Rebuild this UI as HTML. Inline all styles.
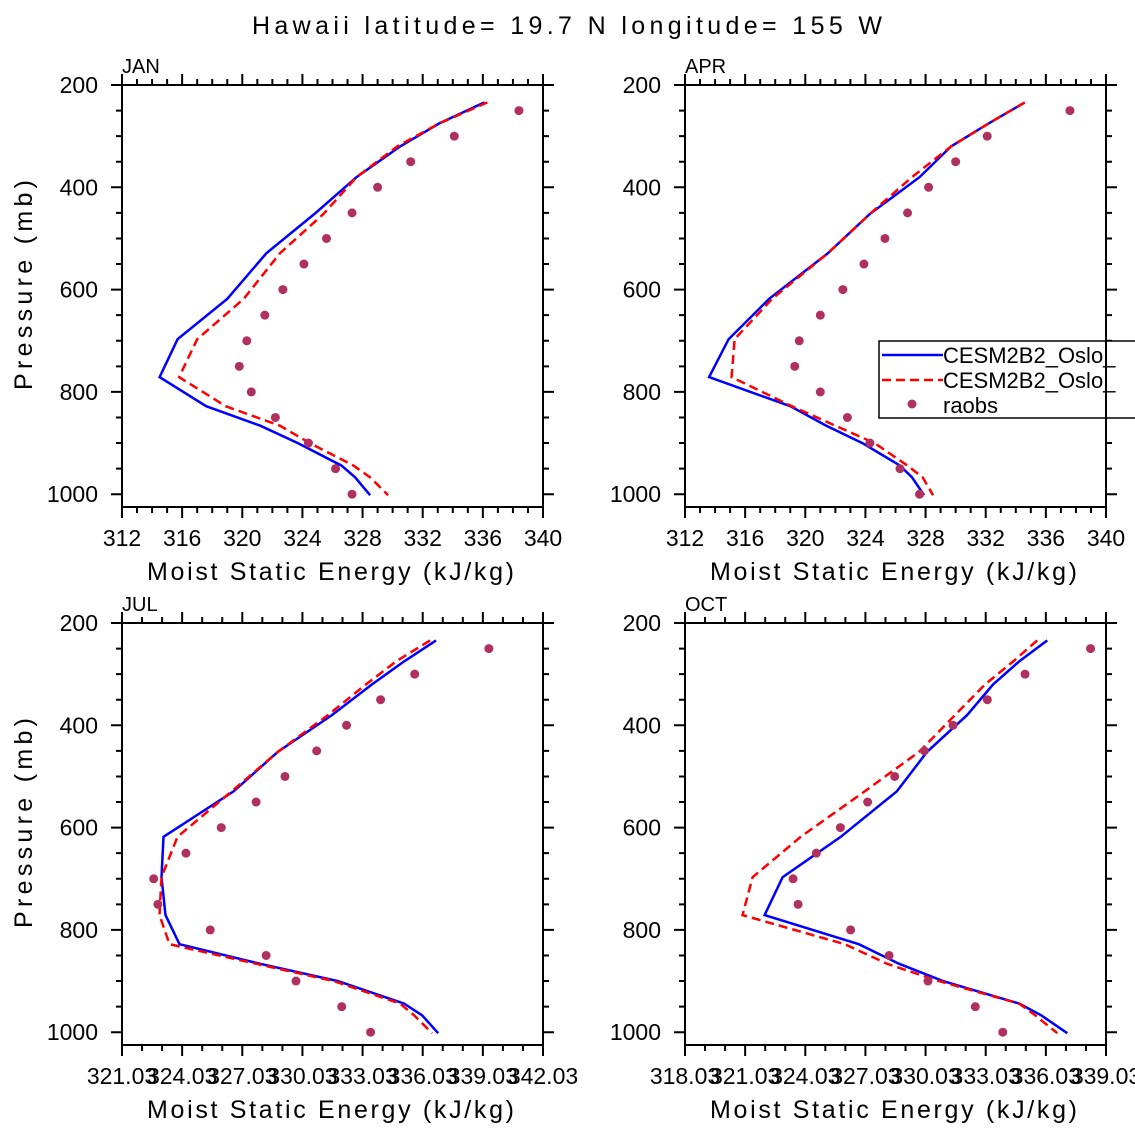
<!DOCTYPE html>
<html><head><meta charset="utf-8"><style>
html,body{margin:0;padding:0;background:#fff;}
svg{display:block;font-family:"Liberation Sans",sans-serif;}
</style></head><body>
<svg id="chart" width="1135" height="1135" viewBox="0 0 1135 1135" xmlns="http://www.w3.org/2000/svg">
<text x="567" y="34" font-size="25" text-anchor="middle" textLength="630" lengthAdjust="spacing" fill="#000">Hawaii  latitude= 19.7 N longitude= 155 W</text>
</svg>
<script>
const levels = [234,275,320,380,452,529,618,697,771,828,866,900,944,967,1002];
const obsLevels = [250,300,350,400,450,500,550,600,650,700,750,800,850,900,950,1000];
const months = ['JAN','APR','JUL','OCT'];
const janBlue = [336.1,333.1,330.5,327.6,324.8,321.6,319.0,315.7,314.5,317.6,321.2,323.7,326.6,327.5,328.5];
const janRed  = [336.3,333.1,330.3,327.6,325.4,322.5,320.1,317.0,315.8,318.9,322.5,324.5,327.4,328.5,329.7];
const janObs  = [338.4,334.1,331.2,329.0,327.3,325.6,324.1,322.7,321.5,320.3,319.8,320.6,322.2,324.4,326.2,327.3];
const aprBlue = [334.6,332.2,329.7,327.6,324.3,321.5,317.6,314.9,313.6,319.0,321.4,323.8,326.3,327.1,327.9];
const aprRed  = [334.6,332.2,329.7,327.1,324.3,321.5,317.8,315.3,315.1,319.1,322.0,324.6,326.8,327.8,328.5];
const aprObs  = [337.6,332.1,330.0,328.2,326.8,325.3,323.9,322.5,321.0,319.6,319.3,321.0,322.8,324.3,326.3,327.6];
const julBlue = [336.7,335.1,333.5,331.5,328.8,326.6,323.1,323.0,323.2,323.9,327.9,331.8,335.1,336.0,336.8];
const julRed  = [336.4,334.7,333.2,331.3,328.8,326.5,323.8,323.0,322.9,323.4,327.7,331.6,334.9,335.6,336.5];
const julObs  = [339.33,335.63,333.93,332.23,330.74,329.16,327.72,325.98,324.22,322.61,322.82,325.43,328.22,329.71,331.99,333.43];
const octBlue = [336.1,334.7,333.4,332.1,330.1,328.6,325.8,322.9,322.0,326.7,328.7,330.9,334.7,335.8,337.1];
const octRed  = [335.6,334.4,333.0,331.5,329.7,327.0,323.8,321.4,320.9,326.0,328.1,330.7,334.7,335.5,336.6];
const octObs  = [338.26,334.99,333.11,331.40,329.97,328.49,327.14,325.78,324.58,323.42,323.67,326.29,328.21,330.15,332.51,333.88];
const xTicksA = ['312','316','320','324','328','332','336','340'];
const xTicksB = ['321.03','324.03','327.03','330.03','333.03','336.03','339.03','342.03'];
const xTicksC = ['318.03','321.03','324.03','327.03','330.03','333.03','336.03','339.03'];
const yTicks = ['200','400','600','800','1000'];
const legendLabels = ['CESM2B2_Oslo_','CESM2B2_Oslo_','raobs'];

const NS='http://www.w3.org/2000/svg';
const svg=document.getElementById('chart');
function el(tag,attrs,parent){const e=document.createElementNS(NS,tag);for(const k in attrs)e.setAttribute(k,attrs[k]);(parent||svg).appendChild(e);return e;}

const panels=[
 {name:'jan',x0:122,y0:85,xmin:312,xmax:340,major:4,ticks:xTicksA,blue:janBlue,red:janRed,obs:janObs,ytitle:true},
 {name:'apr',x0:685,y0:85,xmin:312,xmax:340,major:4,ticks:xTicksA,blue:aprBlue,red:aprRed,obs:aprObs,ytitle:false,legend:true},
 {name:'jul',x0:122,y0:623,xmin:321.03,xmax:342.03,major:3,ticks:xTicksB,blue:julBlue,red:julRed,obs:julObs,ytitle:true},
 {name:'oct',x0:685,y0:623,xmin:318.03,xmax:339.03,major:3,ticks:xTicksC,blue:octBlue,red:octRed,obs:octObs,ytitle:false}
];
const W=421,H=422,PMIN=200,PMAX=1025;

panels.forEach((P,i)=>{
  const g=el('g',{});
  
  
  const xs=v=>P.x0+(v-P.xmin)/(P.xmax-P.xmin)*W;
  const ys=p=>P.y0+(p-PMIN)/(PMAX-PMIN)*H;
  const lab=el('text',{x:P.x0,y:P.y0-12,'font-size':20,fill:'#000'},g);
  lab.textContent=months[i];
  
  
  let d='';
  for(let v=P.xmin;v<=P.xmax+1e-6;v+=1){
    const k=Math.round(v-P.xmin);const len=(k%P.major===0)?11:6;const x=xs(v);
    d+=`M${x},${P.y0+H}v${len}M${x},${P.y0}v${-len}`;
  }
  for(let p=200;p<=1000;p+=50){
    const len=(p%200===0)?11:6;const y=ys(p);
    d+=`M${P.x0},${y}h${-len}M${P.x0+W},${y}h${len}`;
  }
  const tk=el('path',{d:d,stroke:'#000','stroke-width':2,fill:'none'},g);
  
  
  P.ticks.forEach((t,j)=>{
    const tx=el('text',{x:xs(P.xmin)+j*P.major*W/(P.xmax-P.xmin),y:P.y0+H+39,'font-size':23,'text-anchor':'middle',fill:'#000'},g);
    tx.textContent=t;
    
    
  });
  yTicks.forEach(t=>{
    const ty=el('text',{x:P.x0-24,y:ys(+t)+8,'font-size':23,'text-anchor':'end',fill:'#000'},g);
    ty.textContent=t;
    
    
  });
  const xt=el('text',{x:P.x0+W/2-2,y:P.y0+H+73,'font-size':25,'text-anchor':'middle',fill:'#000',textLength:367,lengthAdjust:'spacing'},g);
  xt.textContent='Moist Static Energy (kJ/kg)';
  
  
  if(P.ytitle){
    const yc=P.y0+200;
    const yt=el('text',{x:32,y:yc,'font-size':25,'text-anchor':'middle',fill:'#000',transform:`rotate(-90 32 ${yc})`,textLength:210,lengthAdjust:'spacing'},g);
    yt.textContent='Pressure (mb)';
    
    
  }
  const clip=el('clipPath',{id:'c'+i},g);
  el('rect',{x:P.x0,y:P.y0,width:W,height:H},clip);
  const pts=arr=>arr.map((v,j)=>xs(v).toFixed(1)+','+ys(levels[j]).toFixed(1)).join(' ');
  const b=el('polyline',{points:pts(P.blue),fill:'none',stroke:'#0000ff','stroke-width':2.5,'clip-path':`url(#c${i})`},g);
  
  
  const r=el('polyline',{points:pts(P.red),fill:'none',stroke:'#ff0000','stroke-width':2.5,'stroke-dasharray':'9,5','clip-path':`url(#c${i})`},g);
  
  
  P.obs.forEach((v,j)=>{
    const c=el('circle',{cx:xs(v),cy:ys(obsLevels[j]),r:4.5,fill:'#b03060'},g);
    
    
  });
  const fr=el('rect',{x:P.x0,y:P.y0,width:W,height:H,fill:'none',stroke:'#000','stroke-width':2},g);
  
  
  if(P.legend){
    const lg=el('g',{},g);
    
    
    el('rect',{x:879,y:341,width:280,height:77,fill:'#fff',stroke:'#000','stroke-width':1.5},lg);
    const e1=el('line',{x1:882,y1:355,x2:943,y2:355,stroke:'#0000ff','stroke-width':2.5},lg);
    
    
    const e2=el('line',{x1:882,y1:380,x2:943,y2:380,stroke:'#ff0000','stroke-width':2.5,'stroke-dasharray':'9,5'},lg);
    
    
    const e3=el('circle',{cx:912,cy:404,r:4.5,fill:'#b03060'},lg);
    
    
    legendLabels.forEach((t,j)=>{
      const tt=el('text',{x:943,y:363+j*25,'font-size':22,fill:'#000'},lg);
      tt.textContent=t;
      
      
    });
    el('line',{x1:P.x0+W,y1:341,x2:P.x0+W,y2:418,stroke:'#000','stroke-width':2},lg);
  }
});
</script>
</body></html>
